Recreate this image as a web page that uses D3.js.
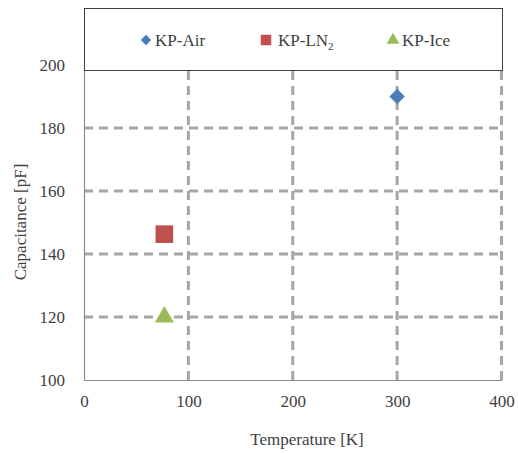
<!DOCTYPE html>
<html>
<head>
<meta charset="utf-8">
<script src="https://cdn.jsdelivr.net/npm/d3@7"></script>
<style>
  body { margin: 0; background: #fff; }
  svg text { font-family: "Liberation Serif", "DejaVu Serif", serif; fill: #404040; }
</style>
</head>
<body>
<svg id="chart" width="518" height="453"></svg>
<script>
const seriesNames = ["KP-Air", "KP-LN2", "KP-Ice"];
const temperatures = [300, 77, 77];
const capacitances = [190, 146.3, 120];
const xTicks = [0, 100, 200, 300, 400];
const yTicks = [100, 120, 140, 160, 180, 200];

const colors = ["#4a7ebb", "#c0504d", "#9bbb59"];
const shapes = [d3.symbolDiamond2, d3.symbolSquare, d3.symbolTriangle];
const markerSizes = [150, 310, 160];
const serif = "'Liberation Serif', 'DejaVu Serif', serif";

const svg = d3.select("#chart");
const margin = { left: 84, right: 16, top: 65, bottom: 73 };
const width = 518, height = 453;

const xScale = d3.scaleLinear().domain([0, 400]).range([margin.left, width - margin.right - 0.5]);
const yScale = d3.scaleLinear().domain([100, 200]).range([height - margin.bottom, margin.top]);

// grid
const grid = svg.append("g")
    .attr("stroke", "#a6a6a6")
    .attr("stroke-width", 3)
    .attr("stroke-dasharray", "9 6");
grid.selectAll(".hgrid")
  .data(yTicks.filter(d => d > 100))
  .join("line")
    .attr("x1", xScale(0))
    .attr("x2", xScale(400))
    .attr("y1", d => yScale(d))
    .attr("y2", d => yScale(d));
grid.selectAll(".vgrid")
  .data(xTicks.filter(d => d > 0))
  .join("line")
    .attr("x1", d => xScale(d))
    .attr("x2", d => xScale(d))
    .attr("y1", yScale(100))
    .attr("y2", yScale(200));

// axes
const xAxis = svg.append("g")
    .attr("transform", `translate(0,${yScale(100)})`)
    .call(d3.axisBottom(xScale).tickValues(xTicks).tickSize(0).tickPadding(15));
const yAxis = svg.append("g")
    .attr("transform", `translate(${xScale(0)},0)`)
    .call(d3.axisLeft(yScale).tickValues(yTicks).tickSize(0).tickPadding(19));
[xAxis, yAxis].forEach(ax => {
  ax.attr("font-family", serif);
  ax.select(".domain").attr("stroke", "#8c8c8c").attr("stroke-width", 1.2);
  ax.selectAll("text")
    .style("font-size", "17px")
    .style("font-family", serif)
    .attr("fill", "#404040");
});

// points
svg.append("g")
  .selectAll("path")
  .data(seriesNames)
  .join("path")
    .attr("transform", (d, i) => `translate(${xScale(temperatures[i])},${yScale(capacitances[i])})`)
    .attr("d", (d, i) => d3.symbol().type(shapes[i]).size(markerSizes[i])())
    .attr("fill", (d, i) => colors[i]);

// axis titles
svg.append("text")
    .attr("x", 307)
    .attr("y", 445)
    .attr("text-anchor", "middle")
    .style("font-size", "17px")
    .style("font-family", serif)
    .text("Temperature [K]");
svg.append("text")
    .attr("transform", "translate(26,222) rotate(-90)")
    .attr("text-anchor", "middle")
    .style("font-size", "17px")
    .style("font-family", serif)
    .text("Capacitance [pF]");

// legend
const legend = svg.append("g");
legend.append("rect")
    .attr("x", 84.5)
    .attr("y", 8.5)
    .attr("width", 418)
    .attr("height", 62)
    .attr("fill", "#fff")
    .attr("stroke", "#404040")
    .attr("stroke-width", 1);
const legendX = [146, 266, 393];
const legendItems = legend.selectAll(".item")
  .data(seriesNames)
  .join("g")
    .attr("transform", (d, i) => `translate(${legendX[i]},40)`);
legendItems.append("path")
    .attr("d", (d, i) => d3.symbol().type(shapes[i]).size(i === 1 ? 110 : 70)())
    .attr("fill", (d, i) => colors[i]);
legendItems.append("text")
    .attr("x", (d, i) => i === 1 ? 12 : 9)
    .attr("y", 6)
    .style("font-size", "17px")
    .style("font-family", serif)
    .each(function(d) {
      const t = d3.select(this);
      if (d === "KP-LN2") {
        t.append("tspan").text("KP-LN");
        t.append("tspan").attr("dy", 4).style("font-size", "11px").text("2");
      } else {
        t.text(d);
      }
    });
</script>
</body>
</html>
